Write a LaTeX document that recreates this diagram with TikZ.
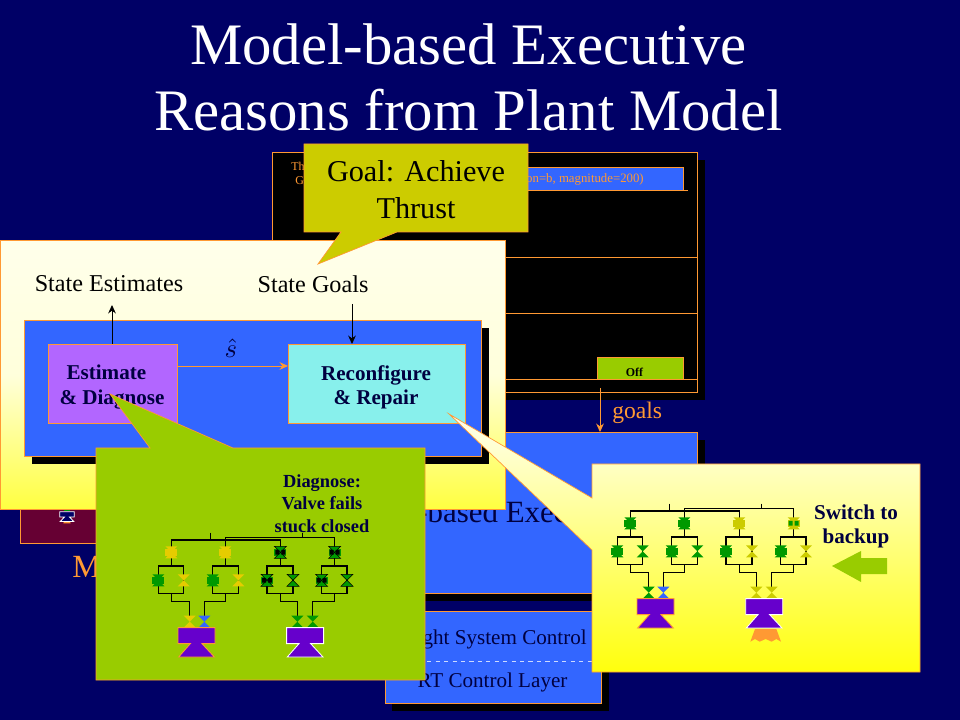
\documentclass[tikz,border=0pt]{standalone}
\usepackage{fontspec}
\usepackage{amsmath}
\setmainfont{Liberation Serif}
\usetikzlibrary{positioning,arrows.meta}
\definecolor{navybg}{HTML}{000066}
\definecolor{edgeorange}{HTML}{FF9933}
\definecolor{boxblue}{HTML}{3366FF}
\definecolor{leafgreen}{HTML}{99CC00}
\definecolor{goalolive}{HTML}{CCCC00}
\definecolor{valvegreen}{HTML}{009900}
\definecolor{valveyellow}{HTML}{E6CC00}
\definecolor{engpurple}{HTML}{6600CC}
\definecolor{inktext}{HTML}{000040}
\definecolor{maroonfill}{HTML}{660033}
\definecolor{estfill}{HTML}{B266FF}
\definecolor{repfill}{HTML}{88F0EC}
\tikzstyle{layer}=[draw=edgeorange,fill=boxblue,line width=.5pt,anchor=north west,inner sep=0pt]
\tikzstyle{textlabel}=[inner sep=0pt,align=center,font=\fontsize{17.2pt}{20pt}\selectfont]
\tikzstyle{boldlabel}=[inner sep=0pt,align=center,text=inktext,font=\fontsize{15pt}{17.2pt}\selectfont\bfseries]
\tikzstyle{smalltext}=[inner sep=0pt,text=edgeorange,font=\fontsize{8.5pt}{10pt}\selectfont]
\tikzstyle{wire}=[line width=.8pt,black]
\tikzstyle{flow}=[-{Stealth[length=6pt,width=5.5pt]},line width=.7pt]
\tikzstyle{callout}=[draw=edgeorange,line width=.5pt]
% one valve, pinched in the middle
\newcommand{\valve}[3]{
  \fill[#3] (#1-18,#2-18) -- (#1+18,#2-18) -- (#1-18,#2+18) -- (#1+18,#2+18) -- cycle;
}
% same valve, shut, with its bar across
\newcommand{\shutvalve}[4]{
  \valve{#1}{#2}{#3}
  \fill[#3] (#1-18,#2-10) rectangle (#1+18,#2+10);
  \fill[#4] (#1-15,#2-7) rectangle (#1-3,#2+7) (#1+3,#2-7) rectangle (#1+15,#2+7);
}
% thin dark rim round a valve
\newcommand{\valverim}[2]{
  \draw[black,line width=.4pt] (#1-18,#2-18) -- (#1+18,#2-18) -- (#1-18,#2+18) -- (#1+18,#2+18) -- cycle;
}
\newcommand{\treewires}{
  \draw[wire] (343,278) -- (343,300) (226,378) -- (226,300) -- (553,300) -- (553,378);
  \draw[wire] (619,278) -- (619,292) (388,378) -- (388,292) -- (716,292) -- (716,378);
  \draw[wire] (226,460) -- (226,484) -- (281,484) -- (281,530);
  \draw[wire] (388,460) -- (388,484) -- (325,484) -- (325,530);
  \draw[wire] (553,460) -- (553,484) -- (604,484) -- (604,530);
  \draw[wire] (716,460) -- (716,484) -- (650,484) -- (650,530);
  \foreach \wl/\wr in {187/263,350/427,513/591,677/753}
    \draw[wire] (\wl,378) rectangle (\wr,460);
}
\newcommand{\engine}[2]{
  \filldraw[fill=engpurple,draw=#2,line width=.6pt] (#1,563) -- (#1+111,563) -- (#1+111,611) -- (#1+72,611)
    -- (#1+109,651) -- (#1+2,651) -- (#1+37,611) -- (#1,611) -- cycle;
}
\begin{document}
\begin{tikzpicture}[x=.025cm,y=-.025cm,>=stealth]
  \useasboundingbox (0,0) rectangle (960,720);
  \fill[navybg] (0,0) rectangle (960,720);

  \node[inner sep=0pt,align=center,text=white,font=\fontsize{41.8pt}{47pt}\selectfont] (title) at (468.5,77)
    {Model-based Executive\\Reasons from Plant Model};

  % plan layer
  \fill[black] (280,160) rectangle (705,400);
  \node[layer,fill=black,minimum width=10.625cm,minimum height=6cm] (plan) at (272,152) {};
  \node[layer,minimum width=4cm,minimum height=.575cm] (burn) at (523,167) {};
  \node[smalltext,anchor=east,font=\fontsize{9.1pt}{10pt}\selectfont] (burntext) at (644,179) {on=b, magnitude=200)};
  \node[smalltext,anchor=west] (thlabel) at (291,166) {Th};
  \node[smalltext,anchor=west] (glabel) at (295,181) {G};
  \draw[edgeorange,line width=.5pt] (523,190) -- (688,190) (272,257) -- (697,257)
    (272,313) -- (697,313) (272,379) -- (697,379);
  \node[layer,fill=leafgreen,minimum width=2.15cm,minimum height=.55cm] (off) at (597,357) {};
  \node[inner sep=0pt,font=\fontsize{8.5pt}{10pt}\selectfont\bfseries] (offtext) at (634.5,372) {Off};

  % executive and control layers
  \fill[black] (392,440) rectangle (705,601);
  \node[layer,minimum width=7.825cm,minimum height=4.025cm] (exec) at (384,432) {};
  \node[inner sep=0pt,font=\fontsize{22pt}{26pt}\selectfont,text=inktext,anchor=base west] (exectext) at (417,523) {-based Exec};
  \fill[black] (392,619) rectangle (609,711);
  \node[layer,minimum width=5.4cm,minimum height=2.3cm] (ctrl) at (385,611) {};
  \draw[dashed,white!75!boxblue,line width=.5pt] (ctrl.west |- 0,661) -- (ctrl.east |- 0,661);
  \node[textlabel,text=inktext,anchor=east,font=\fontsize{15pt}{18pt}\selectfont] (flighttext) at (587,639) {ght System Control};
  \node[textlabel,text=inktext,font=\fontsize{15pt}{18pt}\selectfont] (rttext) at (492.5,682) {RT Control Layer};

  \coordinate (goalstart) at (600,388);
  \draw[flow,edgeorange] (goalstart) -- (goalstart |- exec.north);
  \node[textlabel,text=edgeorange,font=\fontsize{16.8pt}{18pt}\selectfont,anchor=west] (goaltext) at (612,413) {goals};

  % mission box
  \node[layer,fill=maroonfill,minimum width=2.5cm,minimum height=1.15cm] (mission) at (20,497) {};
  \node[inner sep=0pt,font=\fontsize{23pt}{26pt}\selectfont,text=edgeorange,anchor=base west] (mtext) at (72,577) {M};
  \begin{scope}[shift={(67,510)},scale=.14]
    \fill[valvegreen] (-24,-12) -- (24,-12) -- (24,6) -- (-24,6) -- cycle;
    \fill[edgeorange] (-26,96) -- (-18,66) -- (18,66) -- (26,96) -- cycle;
    \filldraw[fill=navybg,draw=white,line width=.6pt] (-52,12) -- (52,12) -- (52,50) -- (18,50) -- (48,82)
      -- (-48,82) -- (-18,50) -- (-52,50) -- cycle;
  \end{scope}

  % yellow panel
  \node[layer,shade,top color=yellow!8,bottom color=yellow!75,middle color=yellow!14,minimum width=12.625cm,minimum height=6.725cm] (panel) at (0,240) {};
  \node[textlabel] (estlabel) at (109,284) {State Estimates};
  \node[textlabel] (goallabel) at (313,284) {State Goals};
  \fill[black] (32,328) rectangle (489,464);
  \node[layer,minimum width=11.425cm,minimum height=3.4cm] (inner) at (24,320) {};
  \node[layer,fill=estfill,minimum width=3.225cm,minimum height=1.975cm] (estimate) at (48,344) {};
  \node[layer,fill=repfill,minimum width=4.425cm,minimum height=1.975cm] (repair) at (288,344) {};
  \node[boldlabel] (esttext) at (112,387) {\hspace*{-8pt}Estimate\\\& Diagnose};
  \node[boldlabel] (reptext) at (376,387) {Reconfigure\\\& Repair};
  \node[inner sep=0pt,text=inktext,scale=1.9] (shat) at (231,348) {$\hat{s}$};
  \draw[flow,black] (estimate.north -| 112,0) -- (112,305);
  \draw[flow,black] (352,304) -- (repair.north -| 352,0);
  \draw[flow,edgeorange] (estimate.east |- 0,366) -- (repair.west |- 0,366);

  % goal callout
  \filldraw[fill=goalolive,callout] (304,144) -- (528,144) -- (528,232) -- (397,232) -- (318,264) -- (341,232) -- (304,232) -- cycle;
  \node[textlabel,text=black,font=\fontsize{21.5pt}{26.5pt}\selectfont] (goalcall) at (416,190) {Goal: Achieve\\Thrust};

  % diagnose callout
  \filldraw[fill=leafgreen,callout] (96,448) -- (150,448) -- (110,394) -- (233,448) -- (425,448) -- (425,680) -- (96,680) -- cycle;
  \node[boldlabel,font=\fontsize{13.1pt}{16pt}\selectfont\bfseries] (diagtext) at (322,503.5) {Diagnose:\\Valve fails\\stuck closed};
  \begin{scope}[shift={(96,440)},x=.00833cm,y=-.00833cm]
    \treewires
    \foreach \vx/\vy in {226/337,388/337}
      {\shutvalve{\vx}{\vy}{valveyellow}{valveyellow}}
    \foreach \vx/\vy in {553/337,716/337,513/421,677/421}
      {\shutvalve{\vx}{\vy}{valvegreen}{black}\valverim{\vx}{\vy}}
    \foreach \vx/\vy in {187/421,350/421}
      {\shutvalve{\vx}{\vy}{valvegreen}{valvegreen}}
    \foreach \vx/\vy/\vc in {263/421/valveyellow,427/421/valveyellow,591/421/valvegreen,753/421/valvegreen,
      281/545/valveyellow,325/545/boxblue,604/545/valvegreen,650/545/valvegreen}
      {\valve{\vx}{\vy}{\vc}}
    \valverim{591}{421}
    \valverim{753}{421}
    \engine{246}{edgeorange}
    \engine{572}{white}
  \end{scope}

  % backup callout
  \shade[callout,top color=yellow!6,bottom color=yellow!95] (592,464) -- (920,464) -- (920,672) -- (592,672) -- (592,550) -- (449,414) -- (592,498) -- cycle;
  \node[boldlabel] (switchtext) at (856,526.5) {Switch to\\backup};
  \fill[leafgreen] (887,558) -- (861,558) -- (861,551) -- (832,566) -- (861,582) -- (861,574) -- (887,574) -- cycle;
  \begin{scope}[shift={(555,411)},x=.00833cm,y=-.00833cm]
    \treewires
    \foreach \vx/\vy in {226/337,388/337,187/421,350/421,513/421,677/421}
      {\shutvalve{\vx}{\vy}{valvegreen}{valvegreen}}
    \shutvalve{553}{337}{goalolive}{goalolive}
    \shutvalve{716}{337}{goalolive}{valvegreen}
    \foreach \vx/\vy/\vc in {263/421/valvegreen,427/421/valvegreen,591/421/goalolive,753/421/goalolive,
      281/545/valvegreen,325/545/boxblue,604/545/goalolive,650/545/goalolive}
      {\valve{\vx}{\vy}{\vc}}
    \engine{246}{edgeorange}
    \engine{572}{white}
    \fill[edgeorange] (586,692) -- (600,654) -- (664,654) -- (678,692) -- (664,684) -- (650,692) -- (632,684) -- (614,692) -- (600,684) -- cycle;
  \end{scope}
\end{tikzpicture}
\end{document}
